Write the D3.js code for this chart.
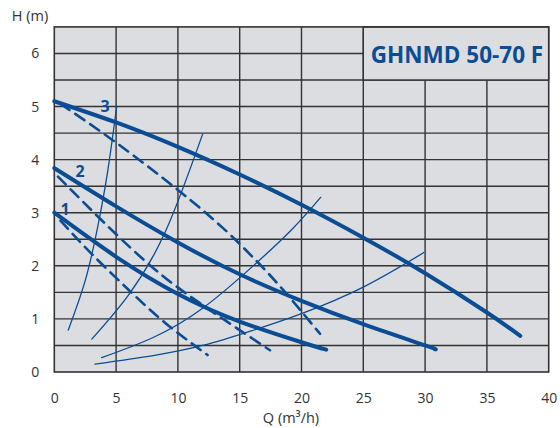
<!DOCTYPE html>
<html>
<head>
<meta charset="utf-8">
<script src="https://cdn.jsdelivr.net/npm/d3@7"></script>
<style>
  body { margin: 0; background: #fff; }
  text { font-family: "Open Sans", sans-serif; }
</style>
</head>
<body>
<svg id="chart"></svg>
<script>
// Tick values
const qTicks = [0, 5, 10, 15, 20, 25, 30, 35, 40];
const hTicks = [0, 1, 2, 3, 4, 5, 6];

// Pump curves [Q, H] (solid = max, dashed = lower setting)
const curve1 = [[0, 3.0], [5, 2.17], [10, 1.47], [15, 0.95], [20, 0.56], [22, 0.42]];
const curve2 = [[0, 3.84], [5, 3.12], [10, 2.44], [15, 1.84], [20, 1.34], [25, 0.9], [30, 0.5], [30.8, 0.43]];
const curve3 = [[0, 5.1], [5, 4.7], [10, 4.24], [15, 3.72], [20, 3.15], [25, 2.53], [30, 1.86], [35, 1.12], [37.7, 0.68]];
const dashed1 = [[0.5, 2.85], [3, 2.23], [6, 1.55], [9, 0.92], [12.4, 0.32]];
const dashed2 = [[0.3, 3.68], [4, 2.82], [8, 1.96], [12, 1.26], [17.45, 0.41]];
const dashed3 = [[0.5, 5.05], [5, 4.32], [10, 3.43], [13.65, 2.71], [16.2, 2.13], [18.5, 1.55], [21.5, 0.72]];

// System curves [Q, H]
const sysA = [[1.13, 0.79], [2.5, 1.72], [3.5, 2.72], [4.3, 3.75], [5.05, 5.0]];
const sysB = [[3.03, 0.62], [6, 1.45], [9, 2.65], [12, 4.48]];
const sysC = [[3.83, 0.27], [8, 0.65], [12, 1.2], [16, 1.98], [19.2, 2.68], [21.55, 3.29]];
const sysD = [[3.29, 0.15], [8, 0.31], [12, 0.5], [16, 0.78], [20, 1.1], [25, 1.6], [29.9, 2.25]];

// Curve labels [text, Q, H]
const curveLabels = [["1", 0.87, 2.96], ["2", 2.08, 3.67], ["3", 4.1, 4.9]];

const width = 560;
const height = 428;
const blue = "#0b4d94";
const gridColor = "#333";

const svg = d3.select("#chart")
    .attr("width", width)
    .attr("height", height);

// Scales
const x = d3.scaleLinear().domain([0, 40]).range([54.3, 548.7]);
const y = d3.scaleLinear().domain([0, 6.5]).range([372, 26.9]);

// Plot background
svg.append("rect")
    .attr("x", x(0))
    .attr("y", y(6.5))
    .attr("width", x(40) - x(0))
    .attr("height", y(0) - y(6.5))
    .attr("fill", "#dcdde0");

// Grid lines
svg.append("g")
    .selectAll("line")
    .data(d3.range(0.5, 6.5, 0.5))
    .join("line")
    .attr("x1", x(0))
    .attr("x2", x(40))
    .attr("y1", d => y(d))
    .attr("y2", d => y(d))
    .attr("stroke", gridColor)
    .attr("stroke-width", 1.4);

svg.append("g")
    .selectAll("line")
    .data(qTicks.slice(1, -1))
    .join("line")
    .attr("x1", d => x(d))
    .attr("x2", d => x(d))
    .attr("y1", y(0))
    .attr("y2", y(6.5))
    .attr("stroke", gridColor)
    .attr("stroke-width", 1.4);

// Title box
svg.append("rect")
    .attr("x", x(25))
    .attr("y", y(6.5))
    .attr("width", x(40) - x(25))
    .attr("height", y(5.5) - y(6.5))
    .attr("fill", "#dcdde0")
    .attr("stroke", gridColor)
    .attr("stroke-width", 1.4);

svg.append("text")
    .attr("x", (x(25) + x(40)) / 2 + 1)
    .attr("y", 62.5)
    .attr("text-anchor", "middle")
    .attr("font-size", 22.5)
    .attr("font-weight", 700)
    .attr("fill", blue)
    .text("GHNMD 50-70 F");

// Plot frame
svg.append("rect")
    .attr("x", x(0))
    .attr("y", y(6.5))
    .attr("width", x(40) - x(0))
    .attr("height", y(0) - y(6.5))
    .attr("fill", "none")
    .attr("stroke", gridColor)
    .attr("stroke-width", 1.6);

// Axes (labels only)
const xAxis = svg.append("g")
    .attr("transform", `translate(0, ${y(0)})`)
    .call(d3.axisBottom(x).tickValues(qTicks).tickSize(0).tickPadding(21));

const yAxis = svg.append("g")
    .attr("transform", `translate(${x(0)}, 0)`)
    .call(d3.axisLeft(y).tickValues(hTicks).tickFormat(d3.format("d")).tickSize(0).tickPadding(15));

[xAxis, yAxis].forEach(g => {
    g.select(".domain").remove();
    g.selectAll("text")
        .attr("font-family", "Open Sans, sans-serif")
        .attr("font-size", 14)
        .attr("fill", "#333");
});

// Axis titles
svg.append("text")
    .attr("x", 30)
    .attr("y", 21)
    .attr("text-anchor", "middle")
    .attr("font-size", 14.5)
    .attr("fill", "#333")
    .text("H (m)");

svg.append("text")
    .attr("x", 291)
    .attr("y", 423)
    .attr("text-anchor", "middle")
    .attr("font-size", 14.5)
    .attr("fill", "#333")
    .text("Q (m³/h)");

// Curves
const line = d3.line()
    .x(d => x(d[0]))
    .y(d => y(d[1]))
    .curve(d3.curveNatural);

const curves = [
    { data: sysA, w: 1.3, dash: null },
    { data: sysB, w: 1.3, dash: null },
    { data: sysC, w: 1.3, dash: null },
    { data: sysD, w: 1.3, dash: null },
    { data: dashed1, w: 2.6, dash: "11,7" },
    { data: dashed2, w: 2.6, dash: "11,7" },
    { data: dashed3, w: 2.6, dash: "11,7" },
    { data: curve1, w: 4, dash: null },
    { data: curve2, w: 4, dash: null },
    { data: curve3, w: 4, dash: null }
];

svg.append("g")
    .selectAll("path")
    .data(curves)
    .join("path")
    .attr("d", d => line(d.data))
    .attr("fill", "none")
    .attr("stroke", blue)
    .attr("stroke-width", d => d.w)
    .attr("stroke-dasharray", d => d.dash)
    .attr("stroke-linecap", "round");

// Curve numbers
svg.append("g")
    .selectAll("text")
    .data(curveLabels)
    .join("text")
    .attr("x", d => x(d[1]))
    .attr("y", d => y(d[2]))
    .attr("text-anchor", "middle")
    .attr("font-size", 16)
    .attr("font-weight", 700)
    .attr("fill", blue)
    .text(d => d[0]);
</script>
</body>
</html>
